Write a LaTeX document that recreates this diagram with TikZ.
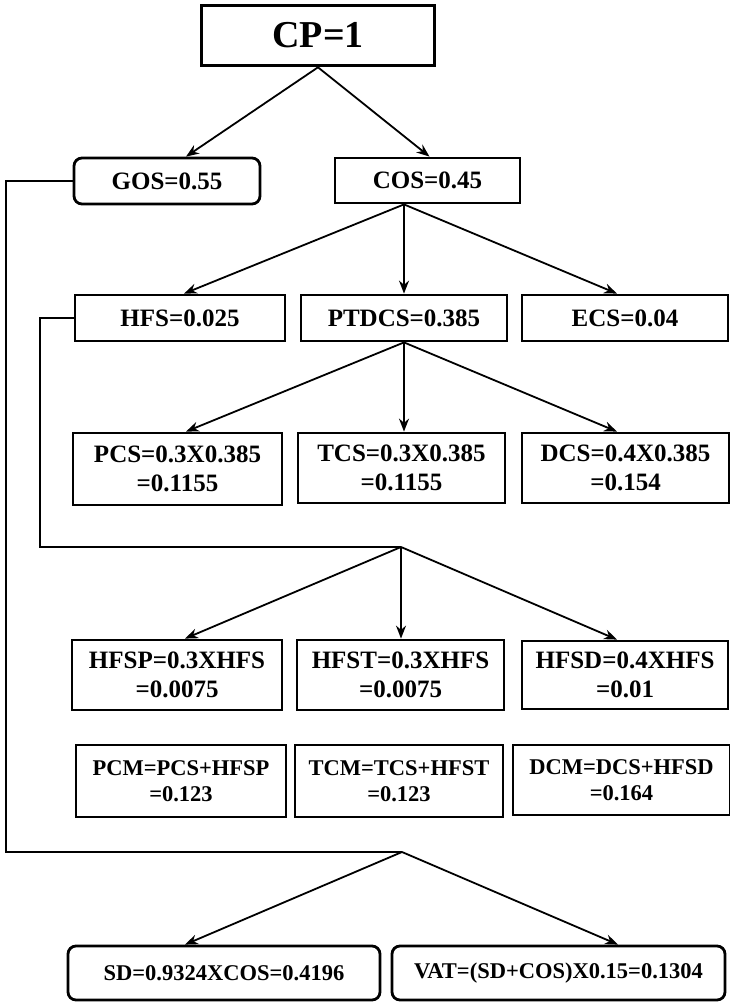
\documentclass[tikz,border=0pt]{standalone}
\usepackage{fontspec}
\setmainfont{Liberation Serif}
\usetikzlibrary{arrows.meta}
\begin{document}
\begin{tikzpicture}[x=1pt,y=-1pt,
  box/.style={draw, line width=2.8pt, fill=white, align=center, inner sep=0pt,
    font=\fontsize{25}{29}\selectfont\bfseries},
  rbox/.style={box, rounded corners=8pt},
  small/.style={font=\fontsize{22.5}{26}\selectfont\bfseries},
  link/.style={line width=1.8pt},
  arr/.style={link, -{Stealth[length=13pt,width=10pt]}}]
\useasboundingbox (0,0) rectangle (730,1002);

% root
\node[box, line width=3.6pt, minimum width=233, minimum height=60,
      font=\fontsize{38}{40}\selectfont\bfseries] (CP) at (318,35.5) {CP=1};

% second level
\node[rbox, minimum width=186, minimum height=46] (GOS) at (167,181) {GOS=0.55};
\node[box,  minimum width=185, minimum height=45] (COS) at (427.5,180.5) {COS=0.45};

% cost split
\node[box, minimum width=210, minimum height=46] (HFS)   at (180,318) {HFS=0.025};
\node[box, minimum width=206, minimum height=46] (PTDCS) at (404,318) {PTDCS=0.385};
\node[box, minimum width=206, minimum height=46] (ECS)   at (625,318) {ECS=0.04};

\node[box, minimum width=209, minimum height=72] (PCS) at (177.5,469) {PCS=0.3X0.385\\=0.1155};
\node[box, minimum width=207, minimum height=70] (TCS) at (401.5,468) {TCS=0.3X0.385\\=0.1155};
\node[box, minimum width=207, minimum height=70] (DCS) at (625.5,468) {DCS=0.4X0.385\\=0.154};

\node[box, minimum width=210, minimum height=70] (HFSP) at (177,675) {HFSP=0.3XHFS\\=0.0075};
\node[box, minimum width=207, minimum height=70] (HFST) at (400.5,675) {HFST=0.3XHFS\\=0.0075};
\node[box, minimum width=206, minimum height=68] (HFSD) at (625,675) {HFSD=0.4XHFS\\=0.01};

\node[box, small, minimum width=210, minimum height=72] (PCM) at (181,781) {PCM=PCS+HFSP\\=0.123};
\node[box, small, minimum width=208, minimum height=72] (TCM) at (399,781) {TCM=TCS+HFST\\=0.123};
\node[box, small, minimum width=217, minimum height=70] (DCM) at (621.5,780) {DCM=DCS+HFSD\\=0.164};

\node[rbox, small, minimum width=312, minimum height=54] (SD)  at (224,973) {SD=0.9324XCOS=0.4196};
\node[rbox, small, minimum width=333, minimum height=54] (VAT) at (558.5,973) {VAT=(SD+COS)X0.15=0.1304};

% forks
\coordinate (fCOS) at (COS.south -| PTDCS.north);
\coordinate (fHFS) at (401,547);
\coordinate (fGOS) at (402,852);

% connectors
\draw[arr] (CP.south) -- ([xshift=19]GOS.north);
\draw[arr] (CP.south) -- ([xshift=2]COS.north);

\draw[arr] (fCOS) -- ([xshift=4]HFS.north);
\draw[arr] (fCOS) -- (PTDCS.north);
\draw[arr] (fCOS) -- ([xshift=-8]ECS.north);

\draw[arr] (PTDCS.south) -- ([xshift=8.5]PCS.north);
\draw[arr] (PTDCS.south) -- (PTDCS.south |- TCS.north);
\draw[arr] (PTDCS.south) -- ([xshift=-8.5]DCS.north);

\draw[link] (HFS.west) -- ++(-34,0) |- (fHFS);
\draw[arr] (fHFS) -- ([xshift=8]HFSP.north);
\draw[arr] (fHFS) -- (fHFS |- HFST.north);
\draw[arr] (fHFS) -- ([xshift=-8]HFSD.north);

\draw[link] (GOS.west) -- ++(-67,0) |- (fGOS);
\draw[arr] (fGOS) -- ([xshift=-39]SD.north);
\draw[arr] (fGOS) -- ([xshift=59.5]VAT.north);
\end{tikzpicture}
\end{document}
